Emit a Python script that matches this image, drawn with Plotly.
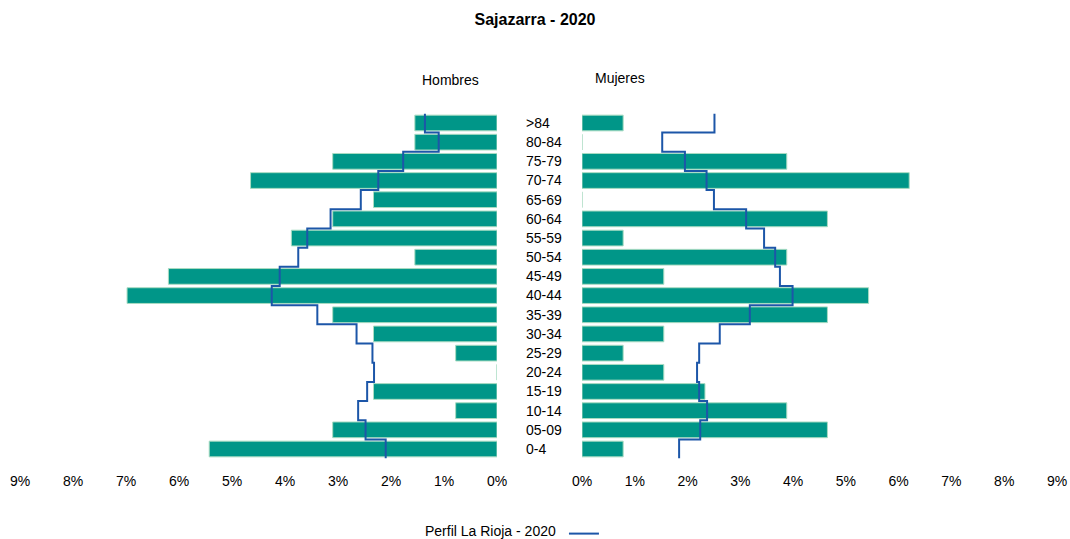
import plotly.graph_objects as go

W, H = 1070, 539

categories = ["0-4", "05-09", "10-14", "15-19", "20-24", "25-29", "30-34", "35-39",
              "40-44", "45-49", "50-54", "55-59", "60-64", "65-69", "70-74", "75-79",
              "80-84", ">84"]

# Population share (%) in Sajazarra 2020
hombres = [5.43, 3.10, 0.78, 2.33, 0.00, 0.78, 2.33, 3.10, 6.98, 6.20, 1.55, 3.88,
           3.10, 2.33, 4.65, 3.10, 1.55, 1.55]
mujeres = [0.78, 4.65, 3.88, 2.33, 1.55, 0.78, 1.55, 4.65, 5.43, 1.55, 3.88, 0.78,
           4.65, 0.00, 6.20, 3.88, 0.00, 0.78]

# Profile La Rioja 2020 (%)
rioja_h = [2.10, 2.48, 2.62, 2.45, 2.32, 2.35, 2.65, 3.39, 4.25, 4.10, 3.75, 3.58,
           3.14, 2.57, 2.24, 1.77, 1.10, 1.36]
rioja_m = [1.84, 2.24, 2.37, 2.22, 2.18, 2.22, 2.61, 3.18, 3.99, 3.75, 3.66, 3.45,
           3.11, 2.50, 2.36, 1.95, 1.52, 2.51]

x_ticks = [0, 1, 2, 3, 4, 5, 6, 7, 8, 9]
x_ticklabels = [f"{t}%" for t in x_ticks]

BAR = "#009688"
BAR_EDGE = "#a9dcc2"
LINE = "#1c56a8"
FONT = "Liberation Sans, Arial, sans-serif"

ypos = list(range(len(categories)))


def step(values):
    xs, ys = [], []
    for i, v in enumerate(values):
        xs += [v, v]
        ys += [i - 0.5, i + 0.5]
    return xs, ys


fig = go.Figure()

fig.add_trace(go.Bar(x=hombres, y=ypos, orientation="h", xaxis="x", yaxis="y",
                     marker=dict(color=BAR, line=dict(color=BAR_EDGE, width=1)),
                     showlegend=False, name="Hombres"))
fig.add_trace(go.Bar(x=mujeres, y=ypos, orientation="h", xaxis="x2", yaxis="y2",
                     marker=dict(color=BAR, line=dict(color=BAR_EDGE, width=1)),
                     showlegend=False, name="Mujeres"))

hx, hy = step(rioja_h)
mx, my = step(rioja_m)
fig.add_trace(go.Scatter(x=hx, y=hy, mode="lines", xaxis="x", yaxis="y",
                         line=dict(color=LINE, width=2), name="",
                         showlegend=True))
fig.add_trace(go.Scatter(x=mx, y=my, mode="lines", xaxis="x2", yaxis="y2",
                         line=dict(color=LINE, width=2), name="",
                         showlegend=False))

ydom = [1 - 458.6 / H, 1 - 113.4 / H]
yrange = [-0.5, len(categories) - 0.5]

fig.update_layout(
    width=W, height=H,
    margin=dict(l=0, r=0, t=0, b=0, autoexpand=False),
    paper_bgcolor="white", plot_bgcolor="white",
    font=dict(family=FONT, size=14, color="#000000"),
    bargap=0.18,
    title=dict(text="<b>Sajazarra - 2020</b>", x=0.5, xanchor="center",
               y=1 - 19 / H, yanchor="middle", font=dict(size=16)),
    xaxis=dict(domain=[20 / W, 497 / W], range=[9, 0], tickvals=x_ticks,
               ticktext=x_ticklabels, showgrid=False, zeroline=False,
               showline=False, ticks="", ticklabelstandoff=12, fixedrange=True,
               automargin=False),
    xaxis2=dict(domain=[582 / W, 1057 / W], range=[0, 9], tickvals=x_ticks,
                ticktext=x_ticklabels, showgrid=False, zeroline=False,
                showline=False, ticks="", ticklabelstandoff=12, fixedrange=True,
                automargin=False),
    yaxis=dict(domain=ydom, range=yrange, anchor="x", side="right",
               tickvals=ypos, ticktext=categories, showgrid=False,
               zeroline=False, showline=False, ticks="", ticklabelstandoff=28,
               automargin=False),
    yaxis2=dict(domain=ydom, range=yrange, anchor="x2", showticklabels=False,
                showgrid=False, zeroline=False, showline=False, ticks="",
                automargin=False),
    legend=dict(orientation="h", x=423 / W, xanchor="left",
                y=1 - 534 / H, yanchor="middle", yref="container",
                title=dict(text="Perfil La Rioja - 2020", side="left",
                           font=dict(size=14)),
                font=dict(size=14), bgcolor="rgba(0,0,0,0)"),
    annotations=[
        dict(text="Hombres", x=450 / W, y=1 - 80 / H, xref="paper", yref="paper",
             showarrow=False, xanchor="center", yanchor="middle",
             font=dict(size=14)),
        dict(text="Mujeres", x=620 / W, y=1 - 78 / H, xref="paper", yref="paper",
             showarrow=False, xanchor="center", yanchor="middle",
             font=dict(size=14)),
    ],
)

fig.write_html("out.html", config={"displayModeBar": False},
               post_script="document.body.style.margin='0px';"
                           "document.body.style.overflow='hidden';")
